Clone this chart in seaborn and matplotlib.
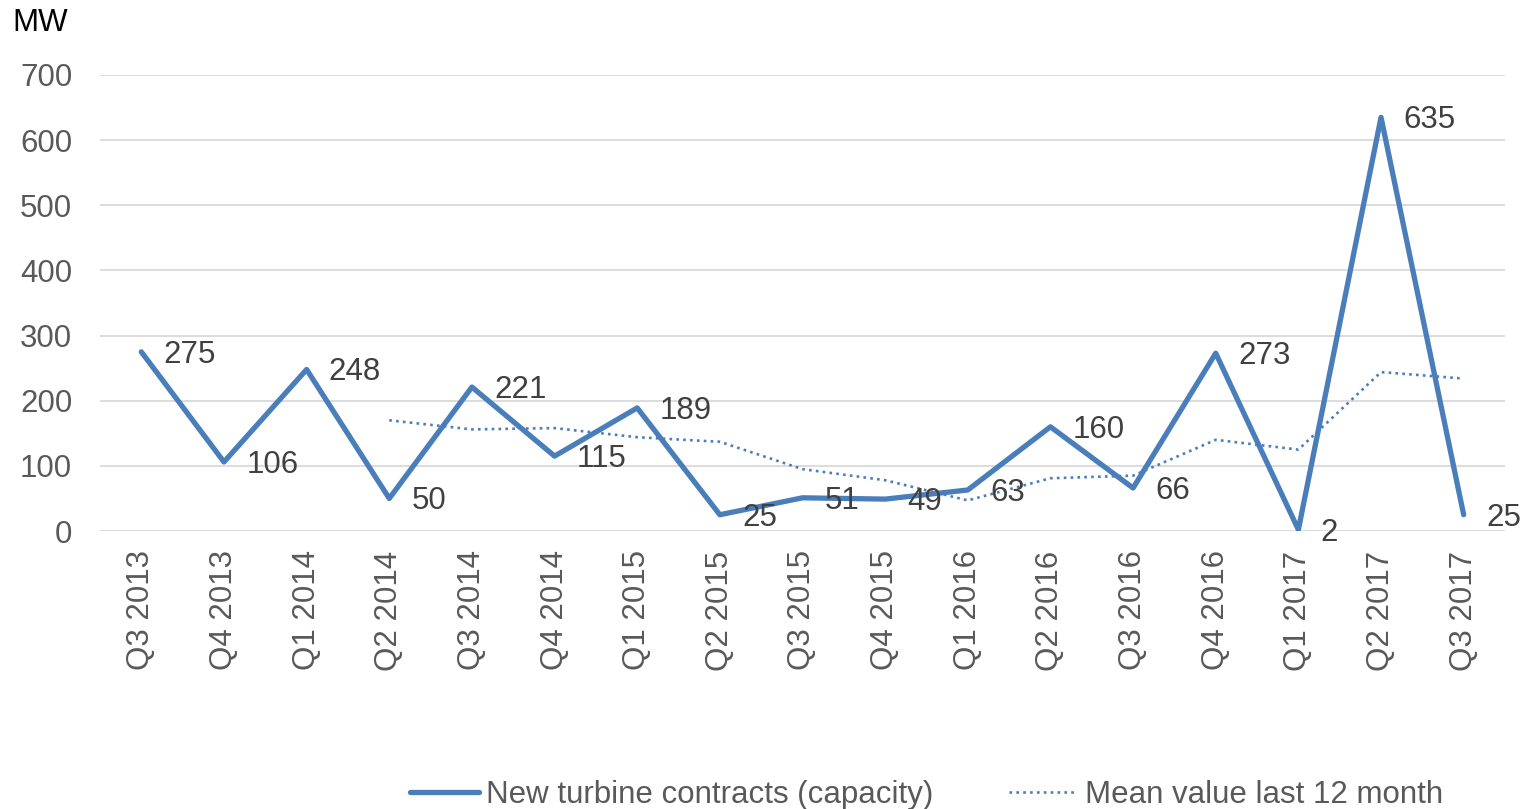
import numpy as np
import pandas as pd
import matplotlib
matplotlib.use("Agg")
import matplotlib.pyplot as plt
import seaborn as sns

quarters = ["Q3 2013", "Q4 2013", "Q1 2014", "Q2 2014", "Q3 2014", "Q4 2014",
            "Q1 2015", "Q2 2015", "Q3 2015", "Q4 2015", "Q1 2016", "Q2 2016",
            "Q3 2016", "Q4 2016", "Q1 2017", "Q2 2017", "Q3 2017"]
contracts = [275, 106, 248, 50, 221, 115, 189, 25, 51, 49, 63, 160, 66, 273, 2, 635, 25]
mean_12m = [np.nan, np.nan, np.nan, 170, 156, 158, 144, 137, 95, 78, 47, 81, 85,
            140, 125, 244, 234]

sns.set_theme(style="white")
plt.rcParams["font.family"] = ["Liberation Sans", "DejaVu Sans"]

blue = "#4A7EBB"
grey = "#595959"
fs = 22.5

df = pd.DataFrame({"pos": np.arange(len(quarters)), "contracts": contracts, "mean": mean_12m})

fig = plt.figure(figsize=(15.29, 8.09), dpi=100)
ax = fig.add_axes([0.0654, 0.3436, 0.9189, 0.5637])

sns.lineplot(data=df, x="pos", y="contracts", ax=ax, color=blue, linewidth=3.8,
             label="New turbine contracts (capacity)", sort=False)
sns.lineplot(data=df.dropna(), x="pos", y="mean", ax=ax, color=blue, linewidth=1.9,
             linestyle=(0, (1, 1.6)), label="Mean value last 12 month", sort=False)

# value labels to the right of each point
for i, v in enumerate(contracts):
    ax.annotate(str(v), (i, v), xytext=(16, -2), textcoords="offset points",
                ha="left", va="center", fontsize=fs, color="#404040")

ax.set_xlim(-0.5, len(quarters) - 0.5)
ax.set_ylim(0, 700)
ax.set_yticks(range(0, 701, 100))
ax.set_xticks(df["pos"])
ax.set_xticklabels(quarters, rotation=90, fontsize=fs, color=grey)
ax.tick_params(axis="y", labelsize=fs, labelcolor=grey, length=0, pad=20)
ax.tick_params(axis="x", length=0, pad=14)
ax.grid(axis="y", color="#D9D9D9", linewidth=1.3)
ax.set_axisbelow(True)
for s in ax.spines.values():
    s.set_visible(False)
ax.set_xlabel("")
ax.set_ylabel("")

fig.text(0.008, 0.972, "MW", fontsize=fs, color="black", ha="left", va="center")

handles, labels = ax.get_legend_handles_labels()
ax.get_legend().remove()
leg = fig.legend(handles, labels, loc="center", bbox_to_anchor=(0.606, 0.017), ncol=2,
                 frameon=False, fontsize=fs, handlelength=2.2, handletextpad=0.25,
                 columnspacing=2.4)
for t in leg.get_texts():
    t.set_color(grey)

fig.savefig("out.png", dpi=100)
